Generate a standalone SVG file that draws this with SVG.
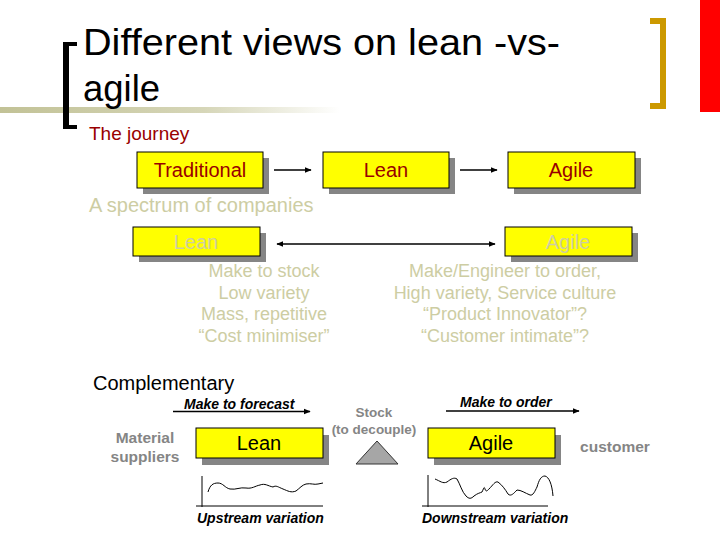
<svg xmlns="http://www.w3.org/2000/svg" width="720" height="540" viewBox="0 0 720 540">
<defs>
<linearGradient id="band" x1="0" y1="0" x2="1" y2="0">
<stop offset="0" stop-color="#c2c296"/>
<stop offset="0.6" stop-color="#d6d6b8"/>
<stop offset="1" stop-color="#ffffff"/>
</linearGradient>
<marker id="ah" viewBox="0 0 10 10" refX="9" refY="5" markerWidth="7" markerHeight="7" markerUnits="userSpaceOnUse" orient="auto-start-reverse">
<path d="M0,1 L10,5 L0,9 z" fill="#000"/>
</marker>
</defs>
<style>
text{font-family:"Liberation Sans",Arial,sans-serif}
.box{fill:#ffff00;stroke:#000;stroke-width:1}
.sh{fill:#858585}
.red{fill:#990000;font-size:20px;text-anchor:middle}
.fade{fill:#cdcda3;font-size:20px;text-anchor:middle}
.sub{fill:#cdcda3;font-size:18px;text-anchor:middle}
.gray{fill:#858585;font-weight:bold;text-anchor:middle}
.bi{font-weight:bold;font-style:italic;font-size:14px;fill:#000}
.blk{fill:#000;font-size:20px;text-anchor:middle}
.con{stroke:#000;stroke-width:1.5;fill:none}
.axis{stroke:#000;stroke-width:1;fill:none}
.wave{stroke:#000;stroke-width:1;fill:none}
</style>
<rect width="720" height="540" fill="#fff"/>
<g id="header">
<rect x="0" y="107" width="340" height="6" fill="url(#band)"/>
<path d="M77,42 H63 V129 H77 V125 H69 V46 H77 Z" fill="#000"/>
<path d="M650,18 H666 V109 H650 V103 H660 V24 H650 Z" fill="#cc9900"/>
<rect x="700" y="0" width="20" height="112" fill="#ff0000"/>
<text x="83" y="55" font-size="36" fill="#000" textLength="477" lengthAdjust="spacingAndGlyphs">Different views on lean -vs-</text>
<text x="83" y="101" font-size="36" fill="#000" textLength="77" lengthAdjust="spacingAndGlyphs">agile</text>
<text x="89" y="140" font-size="19" fill="#990000">The journey</text>
<text x="89" y="212" font-size="20" fill="#cdcda3">A spectrum of companies</text>
<text x="93" y="390" font-size="20" fill="#000">Complementary</text>
</g>
<g id="n-traditional">
<rect class="sh" x="143" y="158" width="126" height="36"/>
<rect class="box" x="137" y="152" width="126" height="36"/>
<text class="red" x="200" y="177">Traditional</text>
</g>
<g id="n-lean1">
<rect class="sh" x="329" y="158" width="126" height="36"/>
<rect class="box" x="323" y="152" width="126" height="36"/>
<text class="red" x="386" y="177">Lean</text>
</g>
<g id="n-agile1">
<rect class="sh" x="514" y="158" width="127" height="36"/>
<rect class="box" x="508" y="152" width="127" height="36"/>
<text class="red" x="571" y="177">Agile</text>
</g>
<g id="n-lean2">
<rect class="sh" x="139" y="233" width="127" height="29"/>
<rect class="box" x="133" y="227" width="127" height="29"/>
<text class="fade" x="196" y="249">Lean</text>
</g>
<g id="n-agile2">
<rect class="sh" x="511" y="233" width="127" height="29"/>
<rect class="box" x="505" y="227" width="127" height="29"/>
<text class="fade" x="568" y="249">Agile</text>
</g>
<g id="lean-traits">
<text class="sub" x="264" y="277">Make to stock</text>
<text class="sub" x="264" y="299">Low variety</text>
<text class="sub" x="264" y="320">Mass, repetitive</text>
<text class="sub" x="264" y="342">“Cost minimiser”</text>
</g>
<g id="agile-traits">
<text class="sub" x="505" y="277">Make/Engineer to order,</text>
<text class="sub" x="505" y="299">High variety, Service culture</text>
<text class="sub" x="505" y="320">“Product Innovator”?</text>
<text class="sub" x="505" y="342">“Customer intimate”?</text>
</g>
<g id="n-suppliers">
<text class="gray" x="145" y="443" font-size="15.5">Material</text>
<text class="gray" x="145" y="462" font-size="15.5">suppliers</text>
</g>
<g id="n-lean3">
<rect class="sh" x="202" y="435" width="127" height="30"/>
<rect class="box" x="196" y="428" width="127" height="30"/>
<text class="blk" x="259" y="450">Lean</text>
</g>
<g id="n-stock">
<text class="gray" x="374" y="417" font-size="13.5">Stock</text>
<text class="gray" x="374" y="434" font-size="13.5">(to decouple)</text>
<path d="M377,441 L398,464 L356,464 Z" fill="#a6a6a6" stroke="#333" stroke-width="1"/>
</g>
<g id="n-agile3">
<rect class="sh" x="434" y="435" width="127" height="30"/>
<rect class="box" x="428" y="428" width="127" height="30"/>
<text class="blk" x="491" y="450">Agile</text>
</g>
<g id="n-customer">
<text class="gray" x="615" y="452" font-size="15.5">customer</text>
</g>
<g id="n-upstream">
<path class="axis" d="M202,476 V507 M196,506 H323"/>
<path class="wave" d="M208,492 C210,485 213,483 218,483 C223,483 225,488 230,489 C236,490 240,487 246,488 C252,489 255,486 260,485 C265,483 268,486 273,487 C276,485 278,487 283,489 C288,491 291,493 296,491 C300,488 302,485 306,484 C311,483 314,485 318,484 L323,483"/>
<text class="bi" x="197" y="523">Upstream variation</text>
</g>
<g id="n-downstream">
<path class="axis" d="M428,475 V507 M422,506 H548"/>
<path class="wave" d="M435,479 C440,481 443,484 447,482 C451,479 454,477 457,479 C460,484 462,492 466,496 C469,499 471,499 474,496 C478,493 480,493 482,492 C484,488 484,486 485,489 C486,492 487,491 489,489 C493,485 495,481 498,482 C502,485 505,489 508,494 C511,497 514,493 517,490 C521,490 525,493 530,495 C533,496 535,491 537,487 C539,480 541,476 545,476 C549,477 552,484 553,496"/>
<text class="bi" x="422" y="523">Downstream variation</text>
</g>
<g id="connectors">
<line class="con" x1="274" y1="170" x2="311" y2="170" marker-end="url(#ah)"/>
<line class="con" x1="460" y1="170" x2="497" y2="170" marker-end="url(#ah)"/>
<line class="con" x1="277" y1="244" x2="495" y2="244" marker-start="url(#ah)" marker-end="url(#ah)"/>
<line class="con" x1="173" y1="411.5" x2="310" y2="411.5" marker-end="url(#ah)"/>
<line class="con" x1="446" y1="411" x2="579" y2="411" marker-end="url(#ah)"/>
<text class="bi" x="184" y="409">Make to forecast</text>
<text class="bi" x="460" y="407">Make to order</text>
</g>
</svg>
